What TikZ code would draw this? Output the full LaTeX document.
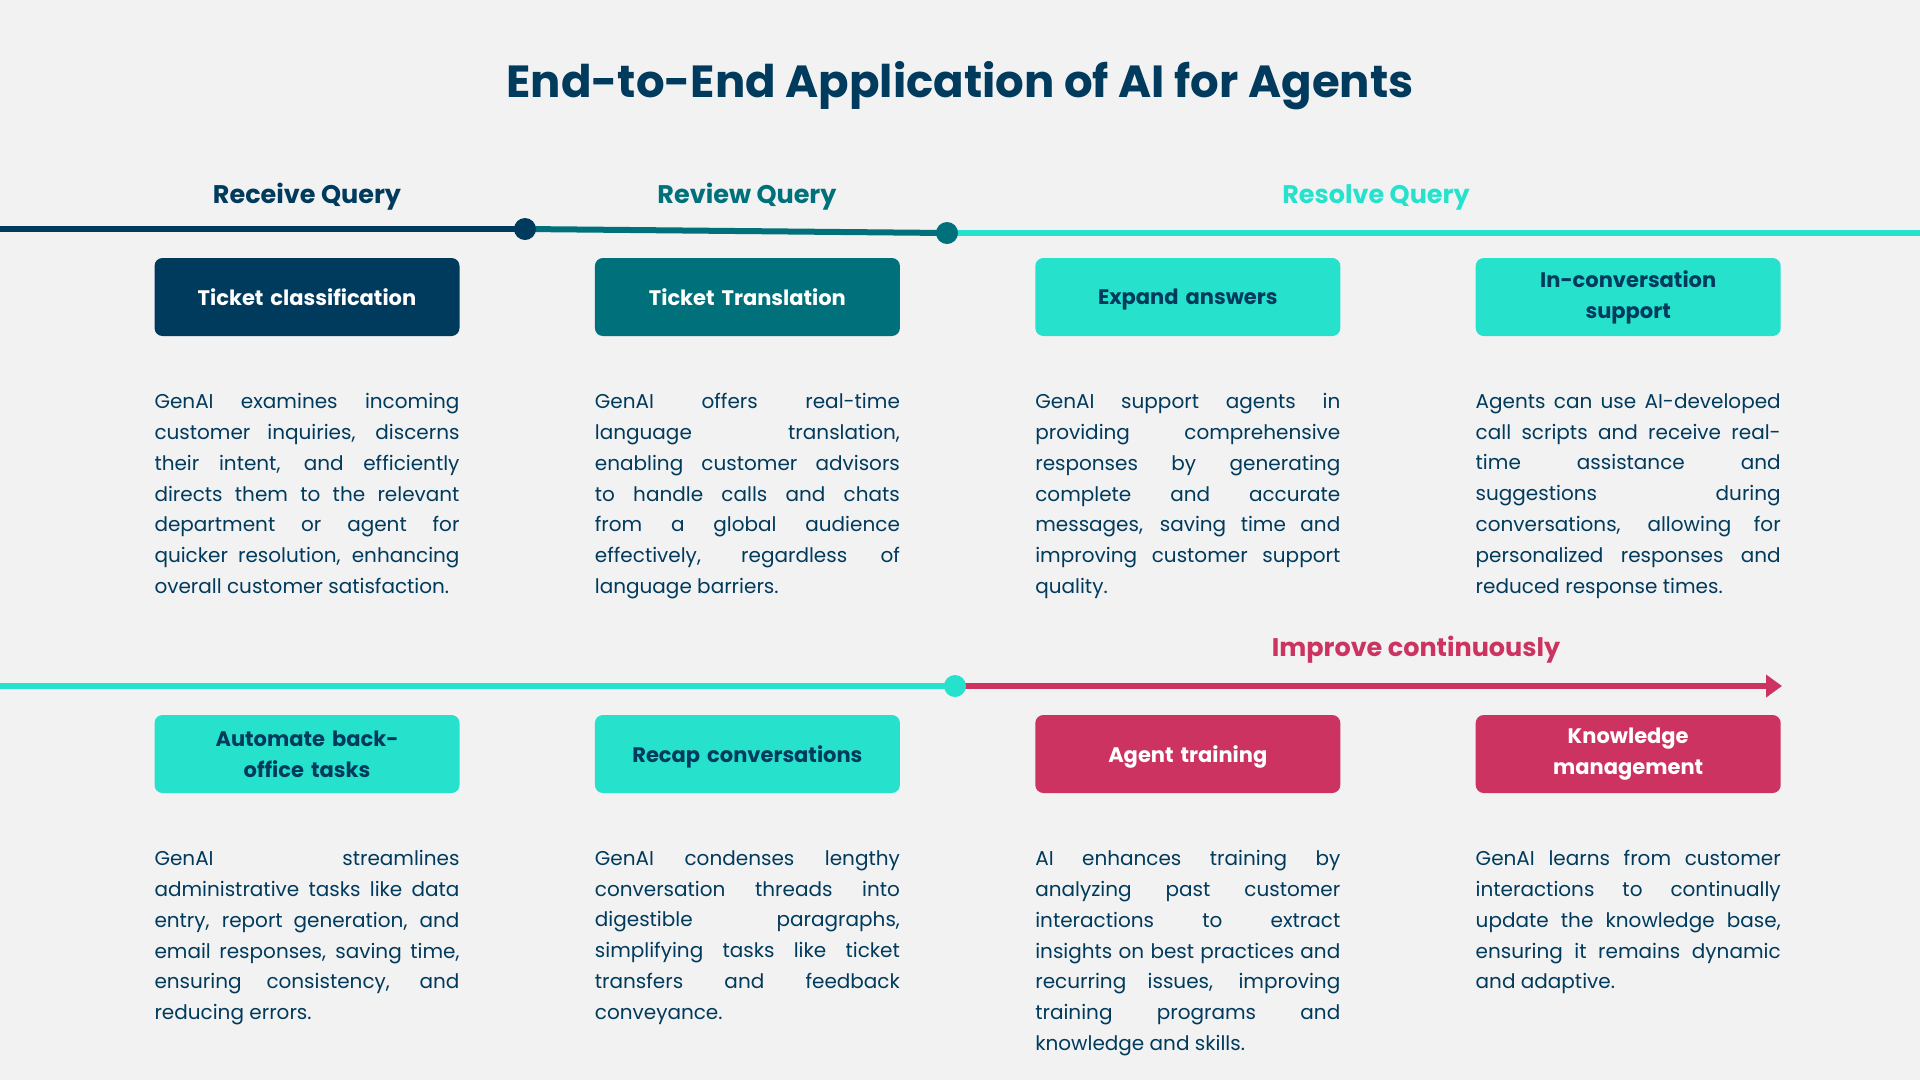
\documentclass[tikz,border=0pt]{standalone}
\usepackage{fontspec}
\setmainfont{Poppins}
\usepackage{xcolor}
\usetikzlibrary{arrows.meta, positioning}
\definecolor{marinho}{HTML}{003A5C}
\definecolor{petroleo}{HTML}{00717A}
\definecolor{turquesa}{HTML}{26E2CD}
\definecolor{carmim}{HTML}{CC3361}
\definecolor{fundo}{HTML}{F2F2F2}
\hbadness=10000

\begin{document}
\begin{tikzpicture}[x=1pt, y=-1pt,
    caixa/.style={rounded corners=8pt, minimum width=305pt, minimum height=78pt, text width=280pt, align=center, font=\fontsize{21}{31}\selectfont\bfseries},
    desc/.style={text width=305pt, align=justify, inner sep=0pt, text=marinho, font=\fontsize{20}{30.8}\selectfont},
    fase/.style={font=\fontsize{25.5}{30}\selectfont\bfseries},
    marco/.style={circle, minimum size=22pt, inner sep=0pt},
    linha/.style={line width=6pt}]
    \fill[fundo] (0,0) rectangle (1920,1080);
    \useasboundingbox (0,0) rectangle (1920,1080);
    \node[font=\fontsize{45}{50}\selectfont\bfseries, text=marinho] (titulo) at (960,86) {End-to-End Application of AI for Agents};
    \node[fase, text=marinho] (f1) at (307,197) {Receive Query};
    \node[fase, text=petroleo] (f2) at (747,197) {Review Query};
    \node[fase, text=turquesa] (f3) at (1376,197) {Resolve Query};
    \node[fase, text=carmim] (f4) at (1416,650) {Improve continuously};
    \coordinate (ini) at (0,229);
    \coordinate (fim) at (1920,233);
    \coordinate (ini2) at (0,686);
    \coordinate (fim2) at (1782,686);
    \draw[linha, marinho] (ini) -- (525,229) coordinate (p1);
    \draw[linha, petroleo] (p1) -- (947,233) coordinate (p2);
    \draw[linha, turquesa] (p2) -- (fim);
    \draw[linha, turquesa] (ini2) -- (955,686) coordinate (p3);
    \draw[linha, carmim, -{Triangle[length=16pt, width=22pt]}] (p3) -- (fim2);
    \node[marco, fill=marinho] (d1) at (p1) {};
    \node[marco, fill=petroleo] (d2) at (p2) {};
    \node[marco, fill=turquesa] (d3) at (p3) {};
    \node[caixa, fill=marinho, text=white, text depth=0pt] (t1) at (307,297) {Ticket classification};
    \node[caixa, fill=petroleo, text=white, text depth=0pt, right=135pt of t1] (t2) {Ticket Translation};
    \node[caixa, fill=turquesa, text=marinho, text depth=0pt, right=135pt of t2] (t3) {Expand answers};
    \node[caixa, fill=turquesa, text=marinho, right=135pt of t3] (t4) {In-conversation\\support};
    \node[caixa, fill=turquesa, text=marinho] (b1) at (307,754) {Automate back-\\office tasks};
    \node[caixa, fill=turquesa, text=marinho, text depth=0pt, right=135pt of b1] (b2) {Recap conversations};
    \node[caixa, fill=carmim, text=white, text depth=0pt, right=135pt of b2] (b3) {Agent training};
    \node[caixa, fill=carmim, text=white, right=135pt of b3] (b4) {Knowledge\\management};
    \node[desc, below=57pt of t1] (t1d) {GenAI examines incoming\linebreak customer inquiries, discerns\linebreak their intent, and efficiently\linebreak directs them to the relevant\linebreak department or agent for\linebreak quicker resolution, enhancing\linebreak overall customer satisfaction.};
    \node[desc, below=57pt of t2] (t2d) {GenAI offers real-time\linebreak language translation,\linebreak enabling customer advisors\linebreak to handle calls and chats\linebreak from a global audience\linebreak effectively, regardless of\linebreak language barriers.};
    \node[desc, below=57pt of t3] (t3d) {GenAI support agents in\linebreak providing comprehensive\linebreak responses by generating\linebreak complete and accurate\linebreak messages, saving time and\linebreak improving customer support\linebreak quality.};
    \node[desc, below=57pt of t4] (t4d) {Agents can use AI-developed\linebreak call scripts and receive real-\linebreak time assistance and\linebreak suggestions during\linebreak conversations, allowing for\linebreak personalized responses and\linebreak reduced response times.};
    \node[desc, below=57pt of b1] (b1d) {GenAI streamlines\linebreak administrative tasks like data\linebreak entry, report generation, and\linebreak email responses, saving time,\linebreak ensuring consistency, and\linebreak reducing errors.};
    \node[desc, below=57pt of b2] (b2d) {GenAI condenses lengthy\linebreak conversation threads into\linebreak digestible paragraphs,\linebreak simplifying tasks like ticket\linebreak transfers and feedback\linebreak conveyance.};
    \node[desc, below=57pt of b3] (b3d) {AI enhances training by\linebreak analyzing past customer\linebreak interactions to extract\linebreak insights on best practices and\linebreak recurring issues, improving\linebreak training programs and\linebreak knowledge and skills.};
    \node[desc, below=57pt of b4] (b4d) {GenAI learns from customer\linebreak interactions to continually\linebreak update the knowledge base,\linebreak ensuring it remains dynamic\linebreak and adaptive.};
\end{tikzpicture}
\end{document}
